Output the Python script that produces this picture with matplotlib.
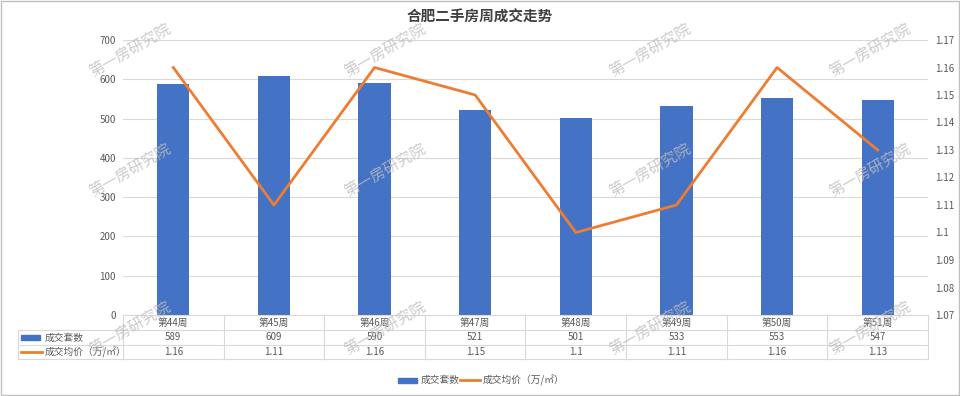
import matplotlib
matplotlib.use("Agg")
import matplotlib.pyplot as plt
import matplotlib.transforms as mtransforms
from matplotlib.patches import Rectangle
from matplotlib.lines import Line2D
import numpy as np

plt.rcParams['font.family'] = ['Noto Sans CJK SC', 'DejaVu Sans']

title = "合肥二手房周成交走势"
weeks = ["第44周", "第45周", "第46周", "第47周", "第48周", "第49周", "第50周", "第51周"]
deals = [589, 609, 590, 521, 501, 533, 553, 547]
prices = [1.16, 1.11, 1.16, 1.15, 1.1, 1.11, 1.16, 1.13]
bar_name = "成交套数"
line_name = "成交均价（万/㎡）"
watermark = "第一房研究院"

BLUE = "#4472C4"
ORANGE = "#ED7D31"
GRID = "#D9D9D9"
TXT = "#595959"

W, H = 960, 396
fig = plt.figure(figsize=(W / 100, H / 100), dpi=100)
ax = fig.add_axes([123 / W, 1 - 315 / H, (928 - 123) / W, (315 - 40) / H])
ax2 = ax.twinx()

x = np.arange(len(weeks))
ax.bar(x, deals, width=0.32, color=BLUE, zorder=2)
ax.set_xlim(-0.5, len(weeks) - 0.5)
ax.set_ylim(0, 700)
ax.set_yticks(range(0, 701, 100))
ax.grid(axis='y', color=GRID, lw=0.8, zorder=0)
ax.set_axisbelow(True)
ax.set_xticks([])

ax2.plot(x, prices, color=ORANGE, lw=2, zorder=3)
ax2.set_ylim(1.07, 1.17)
ax2.set_yticks(np.round(np.arange(1.07, 1.1701, 0.01), 2))
ax2.set_yticklabels([("%g" % v) for v in np.round(np.arange(1.07, 1.1701, 0.01), 2)])

for a in (ax, ax2):
    for s in a.spines.values():
        s.set_visible(False)
    a.tick_params(length=0, labelsize=7, colors=TXT)
ax.tick_params(pad=5)
ax2.tick_params(pad=5)

# data table below the axes
tr = mtransforms.blended_transform_factory(ax.transData, fig.transFigure)
row_y = [1 - 315 / H, 1 - 330 / H, 1 - 345 / H, 1 - 359 / H]
left = -0.5 - (123 - 18) / ((928 - 123) / len(weeks))
right = len(weeks) - 0.5
for i, yy in enumerate(row_y):
    x0 = -0.5 if i == 0 else left
    fig.add_artist(Line2D([x0, right], [yy, yy], transform=tr, color=GRID, lw=0.8))
for k in range(len(weeks) + 1):
    xx = k - 0.5
    fig.add_artist(Line2D([xx, xx], [row_y[0], row_y[3]], transform=tr, color=GRID, lw=0.8))
fig.add_artist(Line2D([left, left], [row_y[1], row_y[3]], transform=tr, color=GRID, lw=0.8))

mid = [(row_y[i] + row_y[i + 1]) / 2 for i in range(3)]
for i in range(len(weeks)):
    fig.text(x[i], mid[0], weeks[i], transform=tr, ha='center', va='center', fontsize=7, color=TXT)
    fig.text(x[i], mid[1], str(deals[i]), transform=tr, ha='center', va='center', fontsize=7, color=TXT)
    fig.text(x[i], mid[2], "%g" % prices[i], transform=tr, ha='center', va='center', fontsize=7, color=TXT)

fig.add_artist(Rectangle((21 / W, mid[1] - 2.5 / H), 19 / W, 5 / H, transform=fig.transFigure, color=BLUE))
fig.text(45 / W, mid[1], bar_name, ha='left', va='center', fontsize=7, color=TXT)
fig.add_artist(Line2D([21 / W, 42 / W], [mid[2], mid[2]], transform=fig.transFigure, color=ORANGE, lw=2))
fig.text(45 / W, mid[2], line_name, ha='left', va='center', fontsize=7, color=TXT)

# bottom legend
ly = 1 - 380 / H
fig.add_artist(Rectangle((398 / W, ly - 2.5 / H), 19 / W, 5 / H, transform=fig.transFigure, color=BLUE))
fig.text(421 / W, ly, bar_name, ha='left', va='center', fontsize=7, color=TXT)
fig.add_artist(Line2D([460 / W, 480 / W], [ly, ly], transform=fig.transFigure, color=ORANGE, lw=2))
fig.text(483 / W, ly, line_name, ha='left', va='center', fontsize=7, color=TXT)

fig.text(0.5, 1 - 17 / H, title, ha='center', va='center', fontsize=10.5, fontweight='bold', color='#404040')

# outer border
fig.add_artist(Rectangle((1 / W, 1 / H), 1 - 2 / W, 1 - 2 / H, transform=fig.transFigure,
                         fill=False, edgecolor='#BFBFBF', lw=1))

# watermarks
wm_x = [130, 385, 650, 870]
wm_y = [50, 170, 328]
for wx in wm_x:
    for wy in wm_y:
        fig.text(wx / W, 1 - wy / H, watermark, ha='center', va='center', fontsize=11,
                 color='#BEBEBE', alpha=0.8, rotation=30, zorder=10)

fig.savefig("out.png", dpi=100)
